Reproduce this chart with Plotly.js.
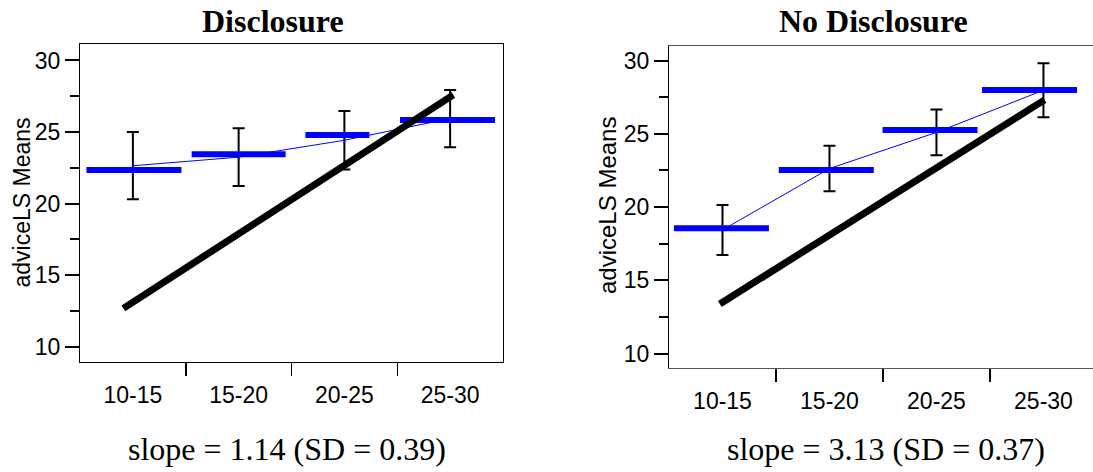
<!DOCTYPE html>
<html>
<head>
<meta charset="utf-8">
<script src="https://cdn.plot.ly/plotly-3.0.1.min.js"></script>
<style>html,body{margin:0;padding:0;background:#fff}#chart{width:1093px;height:472px}</style>
</head>
<body>
<div id="chart"></div>
<script>
// ---------------- data ----------------
const categories = ['10-15', '15-20', '20-25', '25-30'];

// Disclosure panel
const discLSMean = [22.34, 23.44, 24.79, 25.84];   // thick blue bars
const discMean   = [22.64, 23.24, 24.42, 25.94];   // thin line / error-bar centres
const discErr    = [2.35, 2.02, 2.05, 2.00];       // half-width of error bars
const discFitX   = [-0.09, 3.03];                  // fitted line, in category-index units
const discFitY   = [12.67, 27.59];
const discTitle  = 'Disclosure';
const discSlope  = 'slope = 1.14 (SD = 0.39)';

// No Disclosure panel
const noLSMean = [18.55, 22.53, 25.27, 28.00];
const noMean   = [18.44, 22.63, 25.10, 27.98];
const noErr    = [1.71, 1.55, 1.56, 1.85];
const noFitX   = [-0.025, 3.01];
const noFitY   = [13.38, 27.32];
const noTitle  = 'No Disclosure';
const noSlope  = 'slope = 3.13 (SD = 0.37)';

const yTitle = 'adviceLS Means';
const yTicks = [10, 15, 20, 25, 30];
const yMinor = [12.5, 17.5, 22.5, 27.5];

// ---------------- style ----------------
const BLUE = '#0000ff';
const SYM = 1.4; // plotly line-ew / line-ns symbols are 1.4 x marker size long
const discBarShift = [0.01, 0, -0.066, -0.025];
const discBarPx    = [95, 94, 64, 95];
const noBarShift   = [-0.01, -0.03, -0.06, -0.13];
const noBarPx      = [95, 95, 95, 95];

const idx = categories.map((c, i) => i);

function panelTraces(lsMean, mean, err, fitX, fitY, shift, barPx, xa, ya) {
  return [
    { type: 'scatter', mode: 'markers', x: idx, y: mean, xaxis: xa, yaxis: ya,
      marker: { color: 'rgba(0,0,0,0)', size: 1 },
      error_y: { type: 'data', array: err, visible: true, color: '#000', thickness: 2, width: 6 },
      hoverinfo: 'skip', showlegend: false },
    { type: 'scatter', mode: 'markers', x: idx.map((v, i) => v + shift[i]), y: lsMean, xaxis: xa, yaxis: ya,
      marker: { symbol: 'line-ew', size: barPx.map(p => p / SYM), sizemode: 'diameter', sizeref: 1, opacity: 1,
                color: BLUE, line: { color: BLUE, width: 6 } },
      showlegend: false },
    { type: 'scatter', mode: 'lines+markers', x: idx, y: mean, xaxis: xa, yaxis: ya,
      line: { color: BLUE, width: 1 },
      marker: { symbol: 'line-ns', size: 6 / SYM, opacity: 1, color: BLUE, line: { color: BLUE, width: 1.5 } },
      showlegend: false },
    { type: 'scatter', mode: 'lines', x: fitX, y: fitY, xaxis: xa, yaxis: ya,
      line: { color: '#000', width: 7 }, showlegend: false }
  ];
}

const data = [
  ...panelTraces(discLSMean, discMean, discErr, discFitX, discFitY, discBarShift, discBarPx, 'x', 'y'),
  ...panelTraces(noLSMean, noMean, noErr, noFitX, noFitY, noBarShift, noBarPx, 'x2', 'y2')
];

const tickFont = { family: 'Liberation Sans, Arial, sans-serif', size: 23, color: '#000' };

function xAxis(domain, range, anchor, lineColor) {
  return {
    domain: domain, range: range, anchor: anchor,
    tickmode: 'array', tickvals: idx, ticktext: categories,
    ticks: 'outside', ticklen: 12, tickcolor: 'rgba(0,0,0,0)',
    minor: { tickmode: 'array', tickvals: [0.5, 1.5, 2.5], ticks: 'outside', ticklen: 13, tickwidth: 1.5, tickcolor: '#000' },
    showline: true, linecolor: lineColor, linewidth: 1, mirror: true,
    showgrid: false, zeroline: false, tickfont: tickFont, fixedrange: true
  };
}
function yAxis(domain, range, anchor, mirror) {
  return {
    domain: domain, range: range, anchor: anchor,
    tickmode: 'array', tickvals: yTicks,
    ticks: 'outside', ticklen: 14, tickwidth: 2, tickcolor: '#000',
    minor: { tickmode: 'array', tickvals: yMinor, ticks: 'outside', ticklen: 9, tickwidth: 2, tickcolor: '#000' },
    showline: true, linecolor: '#000', linewidth: 1, mirror: mirror,
    showgrid: false, zeroline: false, tickfont: tickFont, fixedrange: true
  };
}

const W = 1093, H = 472;
const serif = 'Liberation Serif, Times New Roman, serif';
const layout = {
  width: W, height: H,
  margin: { l: 0, r: 0, t: 0, b: 0 },
  paper_bgcolor: '#fff', plot_bgcolor: '#fff',
  showlegend: false,
  xaxis: xAxis([80 / W, 503 / W], [-0.5, 3.5], 'y', '#000'),
  yaxis: yAxis([1 - 362.3 / H, 1 - 44 / H], [8.9, 31.15], 'x', true),
  xaxis2: xAxis([669 / W, 1], [-0.5, 3.463], 'y2', '#555'),
  yaxis2: yAxis([1 - 368 / H, 1 - 46 / H], [9.01, 31.0], 'x2', false),
  annotations: [
    { text: '<b>' + discTitle + '</b>', x: 272.5 / W, y: 1 - 21.2 / H, xref: 'paper', yref: 'paper', xanchor: 'center', yanchor: 'middle', showarrow: false, font: { family: serif, size: 32, color: '#000' } },
    { text: '<b>' + noTitle + '</b>', x: 873 / W, y: 1 - 21.2 / H, xref: 'paper', yref: 'paper', xanchor: 'center', yanchor: 'middle', showarrow: false, font: { family: serif, size: 32, color: '#000' } },
    { text: discSlope, x: 286.5 / W, y: 1 - 449.2 / H, xref: 'paper', yref: 'paper', xanchor: 'center', yanchor: 'middle', showarrow: false, font: { family: serif, size: 32, color: '#000' } },
    { text: noSlope, x: 886 / W, y: 1 - 449.2 / H, xref: 'paper', yref: 'paper', xanchor: 'center', yanchor: 'middle', showarrow: false, font: { family: serif, size: 32, color: '#000' } },
    { text: yTitle, x: 21 / W, y: 1 - 202.5 / H, xref: 'paper', yref: 'paper', xanchor: 'center', yanchor: 'middle', textangle: -90, showarrow: false, font: { family: 'Liberation Sans, Arial, sans-serif', size: 23, color: '#000' } },
    { text: yTitle, x: 608 / W, y: 1 - 206 / H, xref: 'paper', yref: 'paper', xanchor: 'center', yanchor: 'middle', textangle: -90, showarrow: false, font: { family: 'Liberation Sans, Arial, sans-serif', size: 24, color: '#000' } }
  ]
};

Plotly.newPlot('chart', data, layout, { staticPlot: true, displayModeBar: false });
</script>
</body>
</html>
